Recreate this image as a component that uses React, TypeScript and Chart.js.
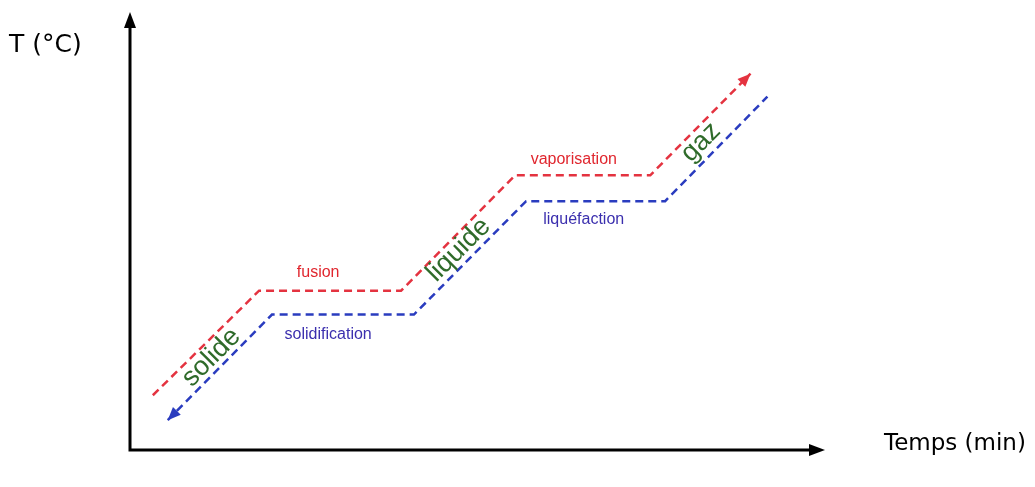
import React, { useEffect, useRef } from "react";
import { Chart, registerables } from "chart.js";

Chart.register(...registerables);

// Heating curve (red) — time (min) / temperature (arbitrary units)
const heatTime = [2.3, 13.0, 27.3, 38.8, 52.4, 62.5];
const heatTemp = [5.5, 16.0, 16.0, 27.6, 27.6, 37.8];
// Cooling curve (blue)
const coolTime = [3.8, 14.3, 28.6, 39.9, 53.9, 64.2];
const coolTemp = [3.0, 13.6, 13.6, 25.0, 25.0, 35.5];

// Change-of-state labels
const changeLabels = ["fusion", "solidification", "vaporisation", "liquéfaction"];
const changeLabelTime = [18.95, 19.96, 44.7, 45.7];
const changeLabelTemp = [17.8, 11.55, 29.2, 23.1];
const changeLabelColors = ["#e0262e", "#3b2fae", "#e0262e", "#3b2fae"];

// State labels (along slopes)
const stateLabels = ["solide", "liquide", "gaz"];
const stateLabelTime = [8.2, 33.1, 57.5];
const stateLabelTemp = [9.3, 20.1, 30.9];

const xTitle = "Temps (min)";
const yTitle = "T (°C)";

const RED = "#e43340";
const BLUE = "#2a3cbf";

function arrowHead(ctx: CanvasRenderingContext2D, tipX: number, tipY: number, fromX: number, fromY: number, len: number, half: number, color: string) {
  const ang = Math.atan2(tipY - fromY, tipX - fromX);
  ctx.save();
  ctx.translate(tipX, tipY);
  ctx.rotate(ang);
  ctx.beginPath();
  ctx.moveTo(0, 0);
  ctx.lineTo(-len, -half);
  ctx.lineTo(-len, half);
  ctx.closePath();
  ctx.fillStyle = color;
  ctx.fill();
  ctx.restore();
}

const decorPlugin = {
  id: "decor",
  afterDatasetsDraw(chart: any) {
    const ctx: CanvasRenderingContext2D = chart.ctx;
    const { left, right, top, bottom } = chart.chartArea;
    const xs = chart.scales.x;
    const ys = chart.scales.y;

    // line arrowheads
    chart.data.datasets.forEach((ds: any, i: number) => {
      const pts = chart.getDatasetMeta(i).data;
      if (pts.length < 2) return;
      if (ds.arrowAt === "end") {
        const a = pts[pts.length - 2], b = pts[pts.length - 1];
        arrowHead(ctx, b.x, b.y, a.x, a.y, 13, 5.5, ds.borderColor);
      } else {
        const a = pts[1], b = pts[0];
        arrowHead(ctx, b.x, b.y, a.x, a.y, 13, 5.5, ds.borderColor);
      }
    });

    // axes
    ctx.save();
    ctx.strokeStyle = "#000";
    ctx.lineWidth = 3;
    ctx.beginPath();
    ctx.moveTo(left, bottom);
    ctx.lineTo(left, top + 10);
    ctx.moveTo(left - 1.5, bottom);
    ctx.lineTo(right - 10, bottom);
    ctx.stroke();
    ctx.restore();
    arrowHead(ctx, left, top, left, bottom, 16, 6, "#000");
    arrowHead(ctx, right, bottom, left, bottom, 16, 6, "#000");

    // change labels
    ctx.save();
    ctx.textAlign = "center";
    ctx.textBaseline = "middle";
    ctx.font = "16px 'Liberation Sans', Arial, sans-serif";
    changeLabels.forEach((t, i) => {
      ctx.fillStyle = changeLabelColors[i];
      ctx.fillText(t, xs.getPixelForValue(changeLabelTime[i]), ys.getPixelForValue(changeLabelTemp[i]));
    });
    ctx.restore();

    // state labels (rotated)
    ctx.save();
    ctx.font = "27px 'Liberation Sans', Arial, sans-serif";
    ctx.fillStyle = "#2f6b2a";
    ctx.textAlign = "center";
    ctx.textBaseline = "middle";
    stateLabels.forEach((t, i) => {
      ctx.save();
      ctx.translate(xs.getPixelForValue(stateLabelTime[i]), ys.getPixelForValue(stateLabelTemp[i]));
      ctx.rotate(-Math.PI / 4);
      ctx.fillText(t, 0, 0);
      ctx.restore();
    });
    ctx.restore();

    // axis titles
    ctx.save();
    ctx.fillStyle = "#000";
    ctx.textBaseline = "middle";
    ctx.textAlign = "left";
    ctx.font = "25px 'DejaVu Sans', sans-serif";
    ctx.fillText(yTitle, 9, 45);
    ctx.font = "23px 'DejaVu Sans', sans-serif";
    ctx.fillText(xTitle, 884, 444);
    ctx.restore();
  },
};

export default function App() {
  const ref = useRef<HTMLCanvasElement | null>(null);
  useEffect(() => {
    if (!ref.current) return;
    const chart = new Chart(ref.current, {
      type: "line",
      data: {
        datasets: [
          {
            label: "échauffement",
            data: heatTime.map((x, i) => ({ x, y: heatTemp[i] })),
            borderColor: RED,
            borderWidth: 2.5,
            borderDash: [8, 5],
            pointRadius: 0,
            fill: false,
            tension: 0,
            arrowAt: "end",
          } as any,
          {
            label: "refroidissement",
            data: coolTime.map((x, i) => ({ x, y: coolTemp[i] })),
            borderColor: BLUE,
            borderWidth: 2.5,
            borderDash: [8, 5],
            pointRadius: 0,
            fill: false,
            tension: 0,
            arrowAt: "start",
          } as any,
        ],
      },
      options: {
        animation: false,
        responsive: false,
        maintainAspectRatio: false,
        layout: { padding: { left: 130, right: 210, top: 12, bottom: 37 } },
        plugins: { legend: { display: false }, tooltip: { enabled: false } },
        scales: {
          x: { type: "linear", min: 0, max: 70, display: false },
          y: { type: "linear", min: 0, max: 44, display: false },
        },
      },
      plugins: [decorPlugin],
    });
    return () => chart.destroy();
  }, []);
  return (
    <div style={{ position: "fixed", left: 0, top: 0, width: 1035, height: 487, background: "#fff" }}>
      <canvas ref={ref} width={1035} height={487} style={{ width: 1035, height: 487, display: "block" }} />
    </div>
  );
}
